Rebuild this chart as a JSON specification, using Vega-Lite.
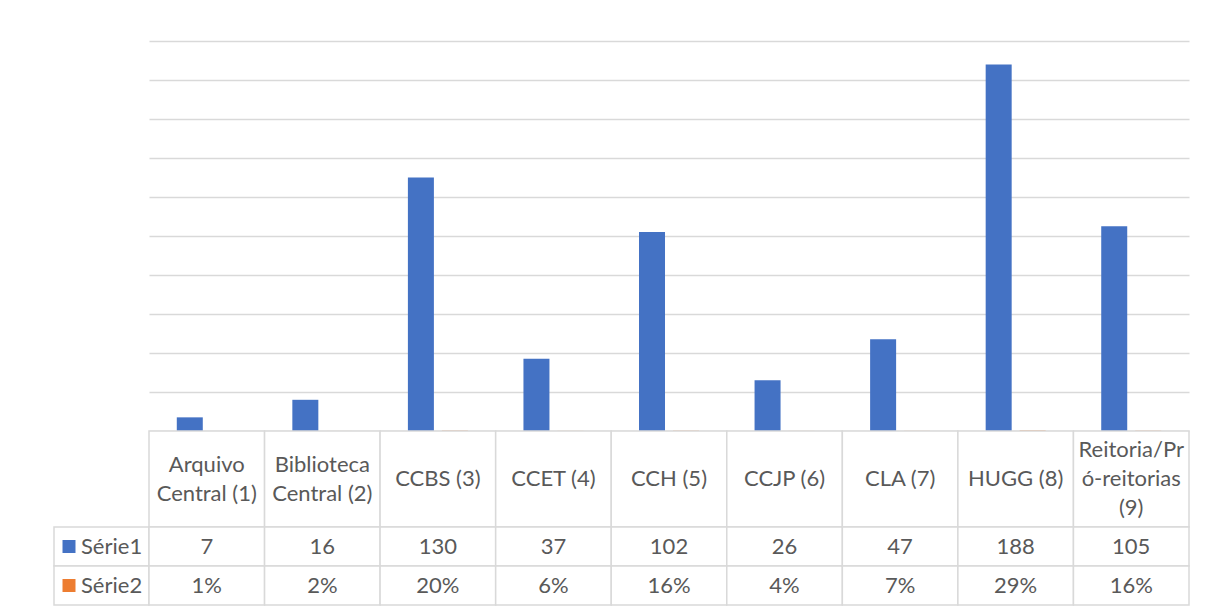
{
  "$schema": "https://vega.github.io/schema/vega-lite/v6.json",
  "padding": {"left": 53, "top": 41, "right": 0, "bottom": 0},
  "bounds": "flush",
  "spacing": 0,
  "columns": 2,
  "config": {
    "view": {"stroke": null},
    "font": "Lato",
    "text": {"font": "Lato", "fontSize": 22, "color": "#595959"}
  },
  "datasets": {
    "cats": [
      {"cat": "Arquivo Central (1)", "rotulo": "Arquivo\nCentral (1)", "linhas": 2},
      {"cat": "Biblioteca Central (2)", "rotulo": "Biblioteca\nCentral (2)", "linhas": 2},
      {"cat": "CCBS (3)", "rotulo": "CCBS (3)", "linhas": 1},
      {"cat": "CCET (4)", "rotulo": "CCET (4)", "linhas": 1},
      {"cat": "CCH (5)", "rotulo": "CCH (5)", "linhas": 1},
      {"cat": "CCJP (6)", "rotulo": "CCJP (6)", "linhas": 1},
      {"cat": "CLA (7)", "rotulo": "CLA (7)", "linhas": 1},
      {"cat": "HUGG (8)", "rotulo": "HUGG (8)", "linhas": 1},
      {"cat": "Reitoria/Pró-reitorias (9)", "rotulo": "Reitoria/Pr\nó-reitorias\n(9)", "linhas": 3}
    ],
    "barras": [
      {"cat": "Arquivo Central (1)", "serie": "Série1", "valor": 7},
      {"cat": "Arquivo Central (1)", "serie": "Série2", "valor": 0.01},
      {"cat": "Biblioteca Central (2)", "serie": "Série1", "valor": 16},
      {"cat": "Biblioteca Central (2)", "serie": "Série2", "valor": 0.02},
      {"cat": "CCBS (3)", "serie": "Série1", "valor": 130},
      {"cat": "CCBS (3)", "serie": "Série2", "valor": 0.2},
      {"cat": "CCET (4)", "serie": "Série1", "valor": 37},
      {"cat": "CCET (4)", "serie": "Série2", "valor": 0.06},
      {"cat": "CCH (5)", "serie": "Série1", "valor": 102},
      {"cat": "CCH (5)", "serie": "Série2", "valor": 0.16},
      {"cat": "CCJP (6)", "serie": "Série1", "valor": 26},
      {"cat": "CCJP (6)", "serie": "Série2", "valor": 0.04},
      {"cat": "CLA (7)", "serie": "Série1", "valor": 47},
      {"cat": "CLA (7)", "serie": "Série2", "valor": 0.07},
      {"cat": "HUGG (8)", "serie": "Série1", "valor": 188},
      {"cat": "HUGG (8)", "serie": "Série2", "valor": 0.29},
      {"cat": "Reitoria/Pró-reitorias (9)", "serie": "Série1", "valor": 105},
      {"cat": "Reitoria/Pró-reitorias (9)", "serie": "Série2", "valor": 0.16}
    ],
    "tabela": [
      {"cat": "Arquivo Central (1)", "serie": "Série1", "valor": "7"},
      {"cat": "Arquivo Central (1)", "serie": "Série2", "valor": "1%"},
      {"cat": "Biblioteca Central (2)", "serie": "Série1", "valor": "16"},
      {"cat": "Biblioteca Central (2)", "serie": "Série2", "valor": "2%"},
      {"cat": "CCBS (3)", "serie": "Série1", "valor": "130"},
      {"cat": "CCBS (3)", "serie": "Série2", "valor": "20%"},
      {"cat": "CCET (4)", "serie": "Série1", "valor": "37"},
      {"cat": "CCET (4)", "serie": "Série2", "valor": "6%"},
      {"cat": "CCH (5)", "serie": "Série1", "valor": "102"},
      {"cat": "CCH (5)", "serie": "Série2", "valor": "16%"},
      {"cat": "CCJP (6)", "serie": "Série1", "valor": "26"},
      {"cat": "CCJP (6)", "serie": "Série2", "valor": "4%"},
      {"cat": "CLA (7)", "serie": "Série1", "valor": "47"},
      {"cat": "CLA (7)", "serie": "Série2", "valor": "7%"},
      {"cat": "HUGG (8)", "serie": "Série1", "valor": "188"},
      {"cat": "HUGG (8)", "serie": "Série2", "valor": "29%"},
      {"cat": "Reitoria/Pró-reitorias (9)", "serie": "Série1", "valor": "105"},
      {"cat": "Reitoria/Pró-reitorias (9)", "serie": "Série2", "valor": "16%"}
    ],
    "legenda": [
      {"serie": "Série1"},
      {"serie": "Série2"}
    ]
  },
  "concat": [
    {
      "width": 95, "height": 390,
      "data": {"values": []},
      "mark": "point",
      "encoding": {}
    },
    {
      "width": 1040, "height": 390,
      "data": {"name": "barras"},
      "mark": {"type": "bar"},
      "encoding": {
        "x": {"field": "cat", "type": "nominal", "sort": null, "scale": {"paddingInner": 0, "paddingOuter": 0}, "axis": null},
        "xOffset": {"field": "serie", "type": "nominal", "sort": null, "scale": {"paddingInner": 0.235, "paddingOuter": 0.8175}},
        "y": {"field": "valor", "type": "quantitative", "scale": {"domain": [0, 200], "nice": false},
          "axis": {"values": [0, 20, 40, 60, 80, 100, 120, 140, 160, 180, 200], "labels": false, "ticks": false, "domain": false, "title": null, "grid": true, "gridColor": "#d9d9d9", "gridWidth": 1.5, "minExtent": 0, "maxExtent": 0}},
        "color": {"field": "serie", "type": "nominal", "scale": {"domain": ["Série1", "Série2"], "range": ["#4472C4", "#ED7D31"]}, "legend": null}
      }
    },
    {
      "width": 95, "height": 96,
      "data": {"values": []},
      "mark": "point",
      "encoding": {}
    },
    {
      "width": 1040, "height": 96,
      "data": {"name": "cats"},
      "encoding": {
        "x": {"field": "cat", "type": "nominal", "sort": null, "scale": {"paddingInner": 0, "paddingOuter": 0}, "axis": null}
      },
      "layer": [
        {"mark": {"type": "rect", "fill": "white", "stroke": "#d9d9d9", "strokeWidth": 1.5}},
        {"transform": [{"filter": "datum.linhas == 1"}],
          "mark": {"type": "text", "baseline": "middle"},
          "encoding": {"text": {"field": "rotulo"}}},
        {"transform": [{"filter": "datum.linhas == 2"}],
          "mark": {"type": "text", "lineBreak": "\n", "lineHeight": 29, "baseline": "middle", "dy": -14.5},
          "encoding": {"text": {"field": "rotulo"}}},
        {"transform": [{"filter": "datum.linhas == 3"}],
          "mark": {"type": "text", "lineBreak": "\n", "lineHeight": 29, "baseline": "middle", "dy": -29},
          "encoding": {"text": {"field": "rotulo"}}}
      ]
    },
    {
      "width": 95, "height": 78,
      "data": {"name": "legenda"},
      "encoding": {
        "y": {"field": "serie", "type": "nominal", "sort": null, "scale": {"paddingInner": 0, "paddingOuter": 0}, "axis": null}
      },
      "layer": [
        {"mark": {"type": "rect", "fill": "white", "stroke": "#d9d9d9", "strokeWidth": 1.5}},
        {"mark": {"type": "square", "size": 169, "opacity": 1, "filled": true},
          "encoding": {
            "x": {"datum": 15, "type": "quantitative", "scale": {"domain": [0, 95], "nice": false, "zero": false}, "axis": null},
            "color": {"field": "serie", "type": "nominal", "scale": {"domain": ["Série1", "Série2"], "range": ["#4472C4", "#ED7D31"]}, "legend": null}
          }},
        {"mark": {"type": "text", "align": "left", "baseline": "middle"},
          "encoding": {
            "x": {"datum": 27, "type": "quantitative"},
            "text": {"field": "serie"}
          }}
      ]
    },
    {
      "width": 1040, "height": 78,
      "data": {"name": "tabela"},
      "encoding": {
        "x": {"field": "cat", "type": "nominal", "sort": null, "scale": {"paddingInner": 0, "paddingOuter": 0}, "axis": null},
        "y": {"field": "serie", "type": "nominal", "sort": null, "scale": {"paddingInner": 0, "paddingOuter": 0}, "axis": null}
      },
      "layer": [
        {"mark": {"type": "rect", "fill": "white", "stroke": "#d9d9d9", "strokeWidth": 1.5}},
        {"mark": {"type": "text", "baseline": "middle"},
          "encoding": {"text": {"field": "valor"}}}
      ]
    }
  ]
}
